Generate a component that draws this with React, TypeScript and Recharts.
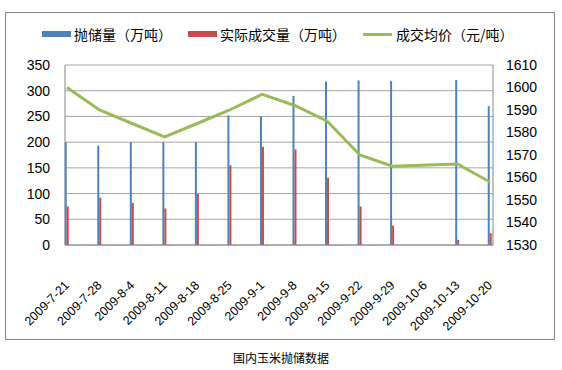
import { Bar, CartesianGrid, ComposedChart, Line, XAxis, YAxis } from "recharts";

const dates = [
  "2009-7-21",
  "2009-7-28",
  "2009-8-4",
  "2009-8-11",
  "2009-8-18",
  "2009-8-25",
  "2009-9-1",
  "2009-9-8",
  "2009-9-15",
  "2009-9-22",
  "2009-9-29",
  "2009-10-6",
  "2009-10-13",
  "2009-10-20",
];
// 抛储量（万吨）
const offered = [200, 193, 200, 200, 200, 252, 250, 290, 318, 320, 319, null, 321, 270];
// 实际成交量（万吨）
const traded = [75, 92, 82, 71, 99, 155, 191, 186, 131, 75, 38, null, 10, 23];
// 成交均价（元/吨）
const avgPrice = [1600, 1590, 1584, 1578, 1584, 1590, 1597, 1592, 1585, 1570, 1565, null, 1566, 1558];

const leftTicks = [0, 50, 100, 150, 200, 250, 300, 350];
const rightTicks = [1530, 1540, 1550, 1560, 1570, 1580, 1590, 1600, 1610];

const rows = dates.map((date, i) => ({
  idx: i,
  date,
  offered: offered[i],
  traded: traded[i],
  avgPrice: avgPrice[i],
}));

const BLUE = "#4F81BD";
const RED = "#C0504D";
const GREEN = "#9BBB59";
const AXIS = "#868686";
const FONT = "'Liberation Sans', Arial, sans-serif";
const CJK = "'Noto Sans CJK SC', sans-serif";

function DateTick({ x, y, payload }: any) {
  const px = x + 3;
  const py = y + 41;
  return (
    <text
      x={px}
      y={py}
      textAnchor="end"
      transform={`rotate(-45, ${px}, ${py})`}
      fontSize={12.5}
      fontFamily={FONT}
      fill="#000"
    >
      {dates[payload.value]}
    </text>
  );
}

function LegendItem({ left, color, line, label }: { left: number; color: string; line?: boolean; label: string }) {
  return (
    <div style={{ position: "absolute", left, top: 24, height: 20, display: "flex", alignItems: "center" }}>
      <div
        style={{
          width: 29,
          height: line ? 3 : 6,
          background: color,
          marginRight: line ? 4 : 3,
        }}
      />
      <span style={{ fontFamily: CJK, fontSize: 14, color: "#000", whiteSpace: "nowrap" }}>{label}</span>
    </div>
  );
}

export default function App() {
  return (
    <div style={{ position: "absolute", left: 0, top: 0, width: 562, height: 370, background: "#fff" }}>
      <div
        style={{
          position: "absolute",
          left: 5,
          top: 12,
          width: 548,
          height: 326,
          border: `1px solid ${AXIS}`,
        }}
      />
      <LegendItem left={42} color={BLUE} label="抛储量（万吨）" />
      <LegendItem left={188} color={RED} label="实际成交量（万吨）" />
      <LegendItem left={363} color={GREEN} line label="成交均价（元/吨）" />
      <div style={{ position: "absolute", left: 0, top: 0 }}>
        <ComposedChart
          width={562}
          height={345}
          data={rows}
          margin={{ top: 65, right: 0, bottom: 0, left: 0 }}
          barGap={0}
        >
          <CartesianGrid yAxisId="left" vertical={false} stroke="#a6a6a6" />
          <XAxis
            dataKey="idx"
            type="number"
            domain={[0, 13]}
            ticks={dates.map((_, i) => i)}
            interval={0}
            padding={{ left: 2, right: 3 }}
            height={100}
            tickSize={0}
            tickMargin={0}
            tickLine={false}
            stroke={AXIS}
            tick={<DateTick />}
          />
          <YAxis
            yAxisId="left"
            domain={[0, 350]}
            ticks={leftTicks}
            width={65}
            tickSize={0}
            tickMargin={15}
            tickLine={false}
            stroke={AXIS}
            tick={{ fill: "#000", fontSize: 14, fontFamily: FONT }}
          />
          <YAxis
            yAxisId="right"
            orientation="right"
            domain={[1530, 1610]}
            ticks={rightTicks}
            width={69}
            tickSize={0}
            tickMargin={13}
            tickLine={false}
            stroke={AXIS}
            tick={{ fill: "#000", fontSize: 14, fontFamily: FONT, textAnchor: "start" }}
          />
          <Bar yAxisId="left" dataKey="offered" fill={BLUE} barSize={2} isAnimationActive={false} />
          <Bar yAxisId="left" dataKey="traded" fill={RED} barSize={2} isAnimationActive={false} />
          <Line
            yAxisId="right"
            dataKey="avgPrice"
            type="linear"
            stroke={GREEN}
            strokeWidth={3}
            dot={false}
            connectNulls
            isAnimationActive={false}
          />
        </ComposedChart>
      </div>
      <div
        style={{
          position: "absolute",
          left: 0,
          width: 562,
          top: 349,
          textAlign: "center",
          fontFamily: CJK,
          fontSize: 12,
          color: "#000",
        }}
      >
        国内玉米抛储数据
      </div>
    </div>
  );
}
